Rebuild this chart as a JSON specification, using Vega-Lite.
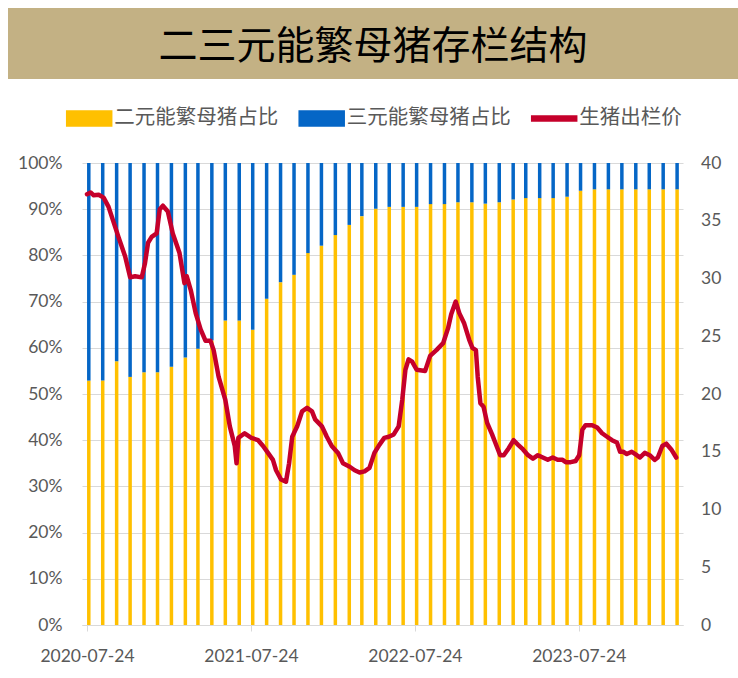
{
  "$schema": "https://vega.github.io/schema/vega-lite/v6.json",
  "padding": {"left": 8, "top": 8, "right": 0, "bottom": 0},
  "background": "white",
  "config": {"view": {"stroke": null}, "font": "Lato"},
  "spacing": 75,
  "vconcat": [
    {
      "width": 730,
      "height": 71,
      "view": {"fill": "#C3B184", "stroke": null},
      "data": {"values": [{"t": "二三元能繁母猪存栏结构"}]},
      "mark": {"type": "text", "font": "Noto Sans CJK SC", "fontSize": 39, "fontWeight": "normal", "color": "#000000", "align": "center", "baseline": "middle", "dy": 3},
      "encoding": {
        "x": {"field": "t", "type": "nominal", "axis": null},
        "y": {"field": "t", "type": "nominal", "axis": null},
        "text": {"field": "t"}
      }
    },
    {
      "spacing": 0,
      "hconcat": [
        {
          "width": 9,
          "height": 10,
          "data": {"values": []},
          "mark": "point"
        },
        {
          "width": 601,
          "height": 462,
          "layer": [
            {
              "data": {"values": [
                {"month": "2020-07-28", "type": "二元能繁母猪占比", "share": 0.529}, {"month": "2020-07-28", "type": "三元能繁母猪占比", "share": 0.471},
                {"month": "2020-08-28", "type": "二元能繁母猪占比", "share": 0.529}, {"month": "2020-08-28", "type": "三元能繁母猪占比", "share": 0.471},
                {"month": "2020-09-28", "type": "二元能繁母猪占比", "share": 0.571}, {"month": "2020-09-28", "type": "三元能繁母猪占比", "share": 0.429},
                {"month": "2020-10-28", "type": "二元能繁母猪占比", "share": 0.537}, {"month": "2020-10-28", "type": "三元能繁母猪占比", "share": 0.463},
                {"month": "2020-11-28", "type": "二元能繁母猪占比", "share": 0.547}, {"month": "2020-11-28", "type": "三元能繁母猪占比", "share": 0.453},
                {"month": "2020-12-28", "type": "二元能繁母猪占比", "share": 0.547}, {"month": "2020-12-28", "type": "三元能繁母猪占比", "share": 0.453},
                {"month": "2021-01-28", "type": "二元能繁母猪占比", "share": 0.559}, {"month": "2021-01-28", "type": "三元能繁母猪占比", "share": 0.441},
                {"month": "2021-02-28", "type": "二元能繁母猪占比", "share": 0.579}, {"month": "2021-02-28", "type": "三元能繁母猪占比", "share": 0.421},
                {"month": "2021-03-28", "type": "二元能繁母猪占比", "share": 0.598}, {"month": "2021-03-28", "type": "三元能繁母猪占比", "share": 0.402},
                {"month": "2021-04-28", "type": "二元能繁母猪占比", "share": 0.616}, {"month": "2021-04-28", "type": "三元能繁母猪占比", "share": 0.384},
                {"month": "2021-05-28", "type": "二元能繁母猪占比", "share": 0.659}, {"month": "2021-05-28", "type": "三元能繁母猪占比", "share": 0.341},
                {"month": "2021-06-28", "type": "二元能繁母猪占比", "share": 0.659}, {"month": "2021-06-28", "type": "三元能繁母猪占比", "share": 0.341},
                {"month": "2021-07-28", "type": "二元能繁母猪占比", "share": 0.639}, {"month": "2021-07-28", "type": "三元能繁母猪占比", "share": 0.361},
                {"month": "2021-08-28", "type": "二元能繁母猪占比", "share": 0.706}, {"month": "2021-08-28", "type": "三元能繁母猪占比", "share": 0.294},
                {"month": "2021-09-28", "type": "二元能繁母猪占比", "share": 0.742}, {"month": "2021-09-28", "type": "三元能繁母猪占比", "share": 0.258},
                {"month": "2021-10-28", "type": "二元能繁母猪占比", "share": 0.758}, {"month": "2021-10-28", "type": "三元能繁母猪占比", "share": 0.242},
                {"month": "2021-11-28", "type": "二元能繁母猪占比", "share": 0.805}, {"month": "2021-11-28", "type": "三元能繁母猪占比", "share": 0.195},
                {"month": "2021-12-28", "type": "二元能繁母猪占比", "share": 0.821}, {"month": "2021-12-28", "type": "三元能繁母猪占比", "share": 0.179},
                {"month": "2022-01-28", "type": "二元能繁母猪占比", "share": 0.844}, {"month": "2022-01-28", "type": "三元能繁母猪占比", "share": 0.156},
                {"month": "2022-02-28", "type": "二元能繁母猪占比", "share": 0.866}, {"month": "2022-02-28", "type": "三元能繁母猪占比", "share": 0.134},
                {"month": "2022-03-28", "type": "二元能繁母猪占比", "share": 0.885}, {"month": "2022-03-28", "type": "三元能繁母猪占比", "share": 0.115},
                {"month": "2022-04-28", "type": "二元能繁母猪占比", "share": 0.901}, {"month": "2022-04-28", "type": "三元能繁母猪占比", "share": 0.099},
                {"month": "2022-05-28", "type": "二元能繁母猪占比", "share": 0.905}, {"month": "2022-05-28", "type": "三元能繁母猪占比", "share": 0.095},
                {"month": "2022-06-28", "type": "二元能繁母猪占比", "share": 0.905}, {"month": "2022-06-28", "type": "三元能繁母猪占比", "share": 0.095},
                {"month": "2022-07-28", "type": "二元能繁母猪占比", "share": 0.905}, {"month": "2022-07-28", "type": "三元能繁母猪占比", "share": 0.095},
                {"month": "2022-08-28", "type": "二元能繁母猪占比", "share": 0.911}, {"month": "2022-08-28", "type": "三元能繁母猪占比", "share": 0.089},
                {"month": "2022-09-28", "type": "二元能繁母猪占比", "share": 0.911}, {"month": "2022-09-28", "type": "三元能繁母猪占比", "share": 0.089},
                {"month": "2022-10-28", "type": "二元能繁母猪占比", "share": 0.915}, {"month": "2022-10-28", "type": "三元能繁母猪占比", "share": 0.085},
                {"month": "2022-11-28", "type": "二元能繁母猪占比", "share": 0.915}, {"month": "2022-11-28", "type": "三元能繁母猪占比", "share": 0.085},
                {"month": "2022-12-28", "type": "二元能繁母猪占比", "share": 0.912}, {"month": "2022-12-28", "type": "三元能繁母猪占比", "share": 0.088},
                {"month": "2023-01-28", "type": "二元能繁母猪占比", "share": 0.915}, {"month": "2023-01-28", "type": "三元能繁母猪占比", "share": 0.085},
                {"month": "2023-02-28", "type": "二元能繁母猪占比", "share": 0.921}, {"month": "2023-02-28", "type": "三元能繁母猪占比", "share": 0.079},
                {"month": "2023-03-28", "type": "二元能繁母猪占比", "share": 0.924}, {"month": "2023-03-28", "type": "三元能繁母猪占比", "share": 0.076},
                {"month": "2023-04-28", "type": "二元能繁母猪占比", "share": 0.924}, {"month": "2023-04-28", "type": "三元能繁母猪占比", "share": 0.076},
                {"month": "2023-05-28", "type": "二元能繁母猪占比", "share": 0.924}, {"month": "2023-05-28", "type": "三元能繁母猪占比", "share": 0.076},
                {"month": "2023-06-28", "type": "二元能繁母猪占比", "share": 0.927}, {"month": "2023-06-28", "type": "三元能繁母猪占比", "share": 0.073},
                {"month": "2023-07-28", "type": "二元能繁母猪占比", "share": 0.940}, {"month": "2023-07-28", "type": "三元能繁母猪占比", "share": 0.060},
                {"month": "2023-08-28", "type": "二元能繁母猪占比", "share": 0.943}, {"month": "2023-08-28", "type": "三元能繁母猪占比", "share": 0.057},
                {"month": "2023-09-28", "type": "二元能繁母猪占比", "share": 0.943}, {"month": "2023-09-28", "type": "三元能繁母猪占比", "share": 0.057},
                {"month": "2023-10-28", "type": "二元能繁母猪占比", "share": 0.943}, {"month": "2023-10-28", "type": "三元能繁母猪占比", "share": 0.057},
                {"month": "2023-11-28", "type": "二元能繁母猪占比", "share": 0.943}, {"month": "2023-11-28", "type": "三元能繁母猪占比", "share": 0.057},
                {"month": "2023-12-28", "type": "二元能繁母猪占比", "share": 0.943}, {"month": "2023-12-28", "type": "三元能繁母猪占比", "share": 0.057},
                {"month": "2024-01-28", "type": "二元能繁母猪占比", "share": 0.943}, {"month": "2024-01-28", "type": "三元能繁母猪占比", "share": 0.057},
                {"month": "2024-02-28", "type": "二元能繁母猪占比", "share": 0.943}, {"month": "2024-02-28", "type": "三元能繁母猪占比", "share": 0.057}
              ]},
              "mark": {"type": "bar", "width": 3.5},
              "encoding": {
                "x": {
                  "field": "month", "type": "temporal",
                  "scale": {"type": "utc", "nice": false, "domain": [{"year": 2020, "month": 7, "date": 24, "utc": true}, {"year": 2024, "month": 3, "date": 1, "utc": true}]},
                  "axis": {
                    "title": null, "grid": false,
                    "values": [{"year": 2020, "month": 7, "date": 24, "utc": true}, {"year": 2021, "month": 7, "date": 24, "utc": true}, {"year": 2022, "month": 7, "date": 24, "utc": true}, {"year": 2023, "month": 7, "date": 24, "utc": true}],
                    "format": "%Y-%m-%d",
                    "labelFlush": false, "labelOverlap": false, "labelBound": false,
                    "domainColor": "#D9D9D9", "domainWidth": 1, "tickColor": "#D9D9D9", "tickSize": 6,
                    "labelPadding": 16, "labelFont": "Lato", "labelFontSize": 17.5, "labelColor": "#595959"
                  }
                },
                "y": {
                  "field": "share", "type": "quantitative", "stack": "zero",
                  "scale": {"domain": [0, 1], "nice": false},
                  "axis": {
                    "title": null, "orient": "left", "format": ".0%",
                    "values": [0, 0.1, 0.2, 0.3, 0.4, 0.5, 0.6, 0.7, 0.8, 0.9, 1],
                    "grid": true, "gridColor": "#D9D9D9", "gridWidth": 1,
                    "domain": false, "ticks": false, "labelPadding": 20,
                    "labelFont": "Lato", "labelFontSize": 17.5, "labelColor": "#595959"
                  }
                },
                "order": {"field": "type", "sort": "descending"},
                "color": {
                  "field": "type", "type": "nominal",
                  "scale": {"domain": ["二元能繁母猪占比", "三元能繁母猪占比", "生猪出栏价"], "range": ["#FFC000", "#0566C6", "#C5002B"]},
                  "legend": {
                    "title": null, "orient": "none", "legendX": 65.2, "legendY": 94.2,
                    "direction": "horizontal", "columns": 3, "columnPadding": 17.5,
                    "padding": 0, "labelOffset": 9, "symbolSize": 900, "labelLimit": 400,
                    "labelFont": "Noto Sans CJK SC", "labelFontSize": 20.5, "labelColor": "#595959",
                    "encode": {
                      "symbols": {
                        "update": {
                          "shape": {"signal": "datum.value === '生猪出栏价' ? 'M-1.5,-0.17H1.5V0.17H-1.5Z' : 'M-1.5,-0.5H1.5V0.5H-1.5Z'"},
                          "fill": {"scale": "color", "field": "value"},
                          "stroke": {"value": "transparent"},
                          "opacity": {"value": 1}
                        }
                      }
                    }
                  }
                }
              }
            },
            {
              "data": {"values": [
                {"date": "2020-07-24", "price": 37.3}, {"date": "2020-08-01", "price": 37.45}, {"date": "2020-08-08", "price": 37.2}, {"date": "2020-08-19", "price": 37.25},
                {"date": "2020-08-30", "price": 37.0}, {"date": "2020-09-10", "price": 36.2}, {"date": "2020-09-21", "price": 34.9}, {"date": "2020-10-02", "price": 33.6},
                {"date": "2020-10-17", "price": 31.9}, {"date": "2020-10-28", "price": 30.1}, {"date": "2020-11-08", "price": 30.2}, {"date": "2020-11-23", "price": 30.1},
                {"date": "2020-11-30", "price": 31.3}, {"date": "2020-12-07", "price": 33.1}, {"date": "2020-12-15", "price": 33.6}, {"date": "2020-12-26", "price": 33.9},
                {"date": "2021-01-02", "price": 36.0}, {"date": "2021-01-09", "price": 36.3}, {"date": "2021-01-20", "price": 35.8}, {"date": "2021-01-31", "price": 33.9},
                {"date": "2021-02-15", "price": 32.2}, {"date": "2021-02-26", "price": 29.6}, {"date": "2021-03-03", "price": 30.2}, {"date": "2021-03-12", "price": 29.0},
                {"date": "2021-03-23", "price": 27.0}, {"date": "2021-04-03", "price": 25.6}, {"date": "2021-04-14", "price": 24.6}, {"date": "2021-04-25", "price": 24.6},
                {"date": "2021-05-02", "price": 23.8}, {"date": "2021-05-13", "price": 21.5}, {"date": "2021-05-28", "price": 19.5}, {"date": "2021-06-07", "price": 17.2},
                {"date": "2021-06-18", "price": 15.5}, {"date": "2021-06-22", "price": 14.0}, {"date": "2021-06-26", "price": 16.2}, {"date": "2021-07-10", "price": 16.6},
                {"date": "2021-07-25", "price": 16.2}, {"date": "2021-08-09", "price": 16.0}, {"date": "2021-08-20", "price": 15.5}, {"date": "2021-08-31", "price": 14.9},
                {"date": "2021-09-11", "price": 14.3}, {"date": "2021-09-18", "price": 13.4}, {"date": "2021-09-29", "price": 12.6}, {"date": "2021-10-10", "price": 12.4},
                {"date": "2021-10-17", "price": 14.0}, {"date": "2021-10-24", "price": 16.3}, {"date": "2021-11-04", "price": 17.2}, {"date": "2021-11-15", "price": 18.5},
                {"date": "2021-11-26", "price": 18.8}, {"date": "2021-12-07", "price": 18.5}, {"date": "2021-12-14", "price": 17.8}, {"date": "2021-12-29", "price": 17.2},
                {"date": "2022-01-09", "price": 16.3}, {"date": "2022-01-20", "price": 15.5}, {"date": "2022-02-03", "price": 14.9}, {"date": "2022-02-14", "price": 14.0},
                {"date": "2022-03-01", "price": 13.7}, {"date": "2022-03-12", "price": 13.4}, {"date": "2022-03-23", "price": 13.2}, {"date": "2022-04-03", "price": 13.3},
                {"date": "2022-04-14", "price": 13.6}, {"date": "2022-04-25", "price": 14.9}, {"date": "2022-05-06", "price": 15.6}, {"date": "2022-05-17", "price": 16.2},
                {"date": "2022-05-27", "price": 16.3}, {"date": "2022-06-07", "price": 16.5}, {"date": "2022-06-18", "price": 17.2}, {"date": "2022-06-26", "price": 19.5},
                {"date": "2022-07-03", "price": 22.1}, {"date": "2022-07-10", "price": 23.0}, {"date": "2022-07-18", "price": 22.8}, {"date": "2022-07-28", "price": 22.1},
                {"date": "2022-08-16", "price": 22.0}, {"date": "2022-08-27", "price": 23.3}, {"date": "2022-09-10", "price": 23.8}, {"date": "2022-09-25", "price": 24.4},
                {"date": "2022-10-06", "price": 25.7}, {"date": "2022-10-13", "price": 26.9}, {"date": "2022-10-23", "price": 28.0}, {"date": "2022-10-31", "price": 27.0},
                {"date": "2022-11-11", "price": 26.1}, {"date": "2022-11-22", "price": 24.7}, {"date": "2022-11-29", "price": 24.0}, {"date": "2022-12-07", "price": 23.8},
                {"date": "2022-12-11", "price": 21.5}, {"date": "2022-12-17", "price": 19.2}, {"date": "2022-12-24", "price": 18.9}, {"date": "2023-01-01", "price": 17.5},
                {"date": "2023-01-12", "price": 16.5}, {"date": "2023-01-19", "price": 15.8}, {"date": "2023-01-30", "price": 14.7}, {"date": "2023-02-07", "price": 14.7},
                {"date": "2023-02-18", "price": 15.3}, {"date": "2023-03-01", "price": 16.0}, {"date": "2023-03-11", "price": 15.6}, {"date": "2023-03-22", "price": 15.2},
                {"date": "2023-04-02", "price": 14.7}, {"date": "2023-04-13", "price": 14.4}, {"date": "2023-04-24", "price": 14.7}, {"date": "2023-05-05", "price": 14.5},
                {"date": "2023-05-16", "price": 14.3}, {"date": "2023-05-27", "price": 14.5}, {"date": "2023-06-07", "price": 14.3}, {"date": "2023-06-18", "price": 14.3},
                {"date": "2023-06-25", "price": 14.1}, {"date": "2023-07-06", "price": 14.1}, {"date": "2023-07-17", "price": 14.2}, {"date": "2023-07-25", "price": 14.7},
                {"date": "2023-08-01", "price": 16.9}, {"date": "2023-08-08", "price": 17.3}, {"date": "2023-08-23", "price": 17.3}, {"date": "2023-09-03", "price": 17.1},
                {"date": "2023-09-14", "price": 16.6}, {"date": "2023-09-25", "price": 16.3}, {"date": "2023-10-06", "price": 16.0}, {"date": "2023-10-17", "price": 15.8},
                {"date": "2023-10-24", "price": 15.0}, {"date": "2023-10-31", "price": 15.0}, {"date": "2023-11-08", "price": 14.8}, {"date": "2023-11-19", "price": 15.0},
                {"date": "2023-11-30", "price": 14.7}, {"date": "2023-12-07", "price": 14.5}, {"date": "2023-12-18", "price": 14.9}, {"date": "2023-12-29", "price": 14.7},
                {"date": "2024-01-09", "price": 14.3}, {"date": "2024-01-16", "price": 14.5}, {"date": "2024-01-26", "price": 15.5}, {"date": "2024-02-04", "price": 15.7},
                {"date": "2024-02-15", "price": 15.2}, {"date": "2024-02-26", "price": 14.5}
              ]},
              "mark": {"type": "line", "strokeWidth": 4.5, "strokeJoin": "round", "strokeCap": "round"},
              "encoding": {
                "x": {"field": "date", "type": "temporal"},
                "y": {
                  "field": "price", "type": "quantitative",
                  "scale": {"domain": [0, 40], "nice": false},
                  "axis": {
                    "title": null, "orient": "right",
                    "values": [0, 5, 10, 15, 20, 25, 30, 35, 40],
                    "grid": false, "domain": false, "ticks": false, "labelPadding": 17.5,
                    "labelFont": "Lato", "labelFontSize": 17.5, "labelColor": "#595959"
                  }
                },
                "color": {"datum": "生猪出栏价", "type": "nominal"}
              }
            }
          ],
          "resolve": {"scale": {"y": "independent"}}
        }
      ]
    }
  ]
}
